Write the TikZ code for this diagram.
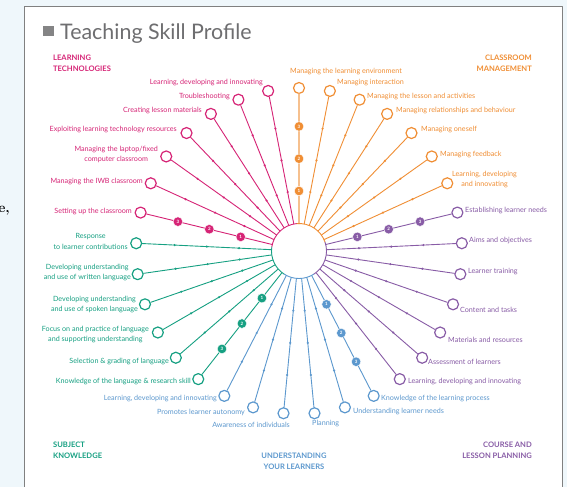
\documentclass[tikz,border=0pt]{standalone}
\usepackage{fontspec}
\setsansfont{Lato}
\definecolor{bgc}{RGB}{239,247,251}
\definecolor{framec}{RGB}{128,128,128}
\definecolor{titlec}{RGB}{110,110,112}
\definecolor{pnk}{RGB}{214,36,118}
\definecolor{orn}{RGB}{240,142,52}
\definecolor{ornlt}{RGB}{246,192,142}
\definecolor{tea}{RGB}{22,160,130}
\definecolor{blu}{RGB}{92,152,206}
\definecolor{prp}{RGB}{136,92,166}
\tikzset{
  spoke/.style={line width=.9bp},
  term/.style={circle,fill=white,line width=1.2bp,minimum size=11bp,inner sep=0},
  tickdot/.style={circle,fill,inner sep=0,minimum size=2.4bp},
  badge/.style={circle,draw=white,line width=.4bp,inner sep=0,minimum size=9.5bp,text=white,font=\sffamily\bfseries\fontsize{4.5}{5}\selectfont},
  lbl/.style={inner sep=0,align=center,font=\sffamily\fontsize{7.2}{10.5}\selectfont},
  grouplbl/.style={inner sep=0,font=\sffamily\bfseries\fontsize{7.6}{11}\selectfont}
}
\begin{document}
\begin{tikzpicture}[x=1bp,y=-1bp,line join=round,line cap=round]
\useasboundingbox (0,0) rectangle (567,487);
\fill[bgc] (0,0) rectangle (567,487);
\fill[white] (24,7) rectangle (562,487);
\draw[framec,line width=1bp] (24,487) -- (24,7) -- (562,7) -- (562,487);
\node[anchor=base east,inner sep=0,font=\rmfamily\bfseries\fontsize{14}{14}\selectfont] (frag) at (10,213) {e,};
\fill[titlec!85] (43,26) rectangle (54,36);
\node[anchor=base west,inner sep=0,text=titlec,font=\sffamily\fontsize{21.5}{23}\selectfont] (title) at (60,39.5) {Teaching Skill Profile};
\node[grouplbl,pnk,anchor=north west,align=left] (gLT) at (53,54.5) {LEARNING\\TECHNOLOGIES};
\node[grouplbl,orn,anchor=north east,align=right] (gCM) at (532,54.5) {CLASSROOM\\MANAGEMENT};
\node[grouplbl,tea,anchor=north west,align=left] (gSK) at (53,442) {SUBJECT\\KNOWLEDGE};
\node[grouplbl,blu,anchor=north,align=center] (gUL) at (294,453) {UNDERSTANDING\\YOUR LEARNERS};
\node[grouplbl,prp,anchor=north east,align=right] (gCL) at (532,442) {COURSE AND\\LESSON PLANNING};
\node[circle,minimum size=55bp,inner sep=0] (hub) at (299,251) {};
\foreach \k/\c/\an/\lx/\ly/\txt in {
  0/orn/west/290/72/{Managing the learning environment},
  1/pnk/east/263/83/{Learning, developing and innovating},
  2/pnk/east/230/97/{Troubleshooting},
  3/pnk/east/202/111/{Creating lesson materials},
  4/pnk/east/177/130/{Exploiting learning technology resources},
  5/pnk/east/158/154.5/{Managing the laptop/fixed\\computer classroom},
  6/pnk/east/143/182/{Managing the IWB classroom},
  7/pnk/east/132/212/{Setting up the classroom},
  8/tea/east/128/241.5/{Response\\to learner contributions},
  9/tea/east/131/272.5/{Developing understanding\\and use of written language},
  10/tea/east/138/304.5/{Developing understanding\\and use of spoken language},
  11/tea/east/149/334.5/{Focus on and practice of language\\and supporting understanding},
  12/tea/east/169/362/{Selection \& grading of language},
  13/tea/east/191/382/{Knowledge of the language \& research skill},
  14/blu/east/217/399/{Learning, developing and innovating},
  15/blu/east/245/412/{Promotes learner autonomy},
  16/blu/east/290/425/{Awareness of individuals},
  17/blu/west/312/424/{Planning},
  18/blu/west/353/412/{Understanding learner needs},
  19/blu/west/381/399/{Knowledge of the learning process},
  20/prp/west/408/382/{Learning, developing and innovating},
  21/prp/west/428/362/{Assessment of learners},
  22/prp/west/448/339.5/{Materials and resources},
  23/prp/west/460/310/{Content and tasks},
  24/prp/west/468/272/{Learner training},
  25/prp/west/469/241/{Aims and objectives},
  26/prp/west/465/211/{Establishing learner needs},
  27/orn/west/452/179.5/{Learning, developing\\and innovating},
  28/orn/west/440/155/{Managing feedback},
  29/orn/west/421/130/{Managing oneself},
  30/orn/west/396/111/{Managing relationships and behaviour},
  31/orn/west/367/97/{Managing the lesson and activities},
  32/orn/west/337/83/{Managing interaction}}{
  \pgfmathsetmacro\a{90+\k*360/33}
  \node[term,draw=\c] (t\k) at ({299+163*cos(\a)},{251-163*sin(\a)}) {};
  \node[lbl,text=\c,anchor=\an] (l\k) at (\lx,\ly) {\txt};
}
\foreach \k/\c in {1/pnk,2/pnk,3/pnk,4/pnk,5/pnk,6/pnk,7/pnk,8/tea,9/tea,10/tea,11/tea,12/tea,13/tea,
  14/blu,15/blu,16/blu,17/blu,18/blu,19/blu,20/prp,21/prp,22/prp,23/prp,24/prp,25/prp,26/prp,
  27/orn,28/orn,29/orn,30/orn,31/orn,32/orn}
  \draw[spoke,\c] (hub) -- node[tickdot,pos=.25]{} node[tickdot,pos=.5]{} node[tickdot,pos=.75]{} (t\k);
\draw[ornlt,line width=2bp] (hub) -- (t0);
\foreach \k/\c in {0/orn,7/pnk,13/tea,19/blu,26/prp}
  \path (hub) -- node[badge,fill=\c,pos=.25]{1} node[badge,fill=\c,pos=.5]{2} node[badge,fill=\c,pos=.75]{3} (t\k);
\foreach \c/\from/\to in {orn/19.1/95.45,pnk/95.45/171.8,tea/171.8/237.3,blu/237.3/302.7,prp/302.7/379.1}
  \draw[\c,line width=.9bp] (hub.center) ++(-\from:27.5) arc (-\from:-\to:27.5);
\end{tikzpicture}
\end{document}
